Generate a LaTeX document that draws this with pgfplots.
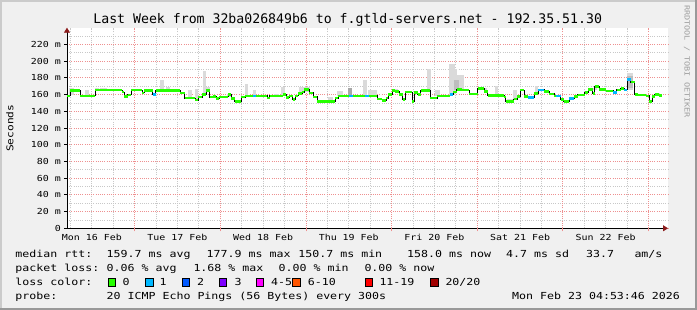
\documentclass[border=0pt]{standalone}
\usepackage{fontspec}
\usepackage{pgfplots}
\usepackage{pgfplotstable}
\pgfplotsset{compat=1.18}
\usetikzlibrary{arrows.meta}
\setmainfont{DejaVu Sans Mono}
\newfontfamily\titlefont{DejaVu Sans Mono}
\newfontfamily\tickfont[FakeStretch=1.2]{DejaVu Sans Mono}
\definecolor{bgcol}{HTML}{F0F0F0}
\definecolor{shadea}{HTML}{CBCBCB}
\definecolor{shadeb}{HTML}{999999}
\definecolor{arrowcol}{HTML}{8B1A1A}
\definecolor{mgridcol}{HTML}{EE9090}
\definecolor{gridcol}{HTML}{C8C8C8}
\definecolor{smoke}{HTML}{DADADA}
\definecolor{smokemd}{HTML}{BDBDBD}
\definecolor{smokedk}{HTML}{A8A8A8}
\definecolor{lc0}{HTML}{26FF00}
\definecolor{lc1}{HTML}{00B8FF}
\definecolor{lc2}{HTML}{0059FF}
\definecolor{lc3}{HTML}{7E00FF}
\definecolor{lc4}{HTML}{FF00FF}
\definecolor{lc6}{HTML}{FF5500}
\definecolor{lc11}{HTML}{FF0000}
\definecolor{lc20}{HTML}{A10000}
\pgfplotstableread{
x y
5.06 158.5
6.0 165
8.8 158.5
13.0 165.4
20.5 163
21.1 158
22.1 159.6
23.0 165.4
26.1 162
26.7 165
29.1 160
29.9 165
36.8 162
38.0 156
41.0 153.5
41.9 157
43.0 160
44.0 165
45.0 157
46.1 158
46.9 155
47.7 157.3
50.3 160
51.1 155.4
52.0 151.5
53.9 157
55.0 158.5
61.1 155.8
61.8 158.5
65.7 160
66.5 156.5
67.4 158.5
68.3 153.8
69.0 158.5
69.9 161
70.9 163
71.5 165.8
73.0 162
74.1 157.3
75.1 151.5
80.2 156
81.1 158.5
92.05 154.6
93.3 153
94.5 156
95.1 160
96.1 165
97.0 164
98.2 160
99.1 154
99.8 163
101.7 152
102.3 162.7
103.3 160
104.2 165
106.8 156
108.7 158.5
112.4 160
113.3 163
114.3 165.8
115.7 165.5
117.7 160.8
120.1 167.5
121.9 163.6
122.9 159
127.5 157
128.0 152
130.2 154.5
131.2 158
132.0 165.5
133.1 158
134.1 156.4
135.9 161
137.0 165.6
138.7 163.6
140.1 160.8
141.6 158.5
143.4 154.4
144.2 151.6
145.7 155.5
147.1 157.6
148.1 159.6
150.1 162.4
151.05 166.3
152.3 161.6
152.9 169.6
154.1 166.3
156.0 164.4
158.1 162.7
159.1 165.6
160.2 167.5
161.1 165.6
162.1 177.9
163.0 175
164.1 160.4
165.0 159.6
167.2 158.4
168.1 151.6
169.1 157.6
169.7 160.4
170.9 159
171.9 159
}\median
\pgfplotstableread{
x y
29.1 160
29.9 160
nan nan
57.2 158.5
58.1 158.5
nan nan
84.2 158.5
85.2 158.5
nan nan
88.5 158.5
89.7 158.5
nan nan
112.4 160
113.3 160
nan nan
134.1 156.4
135.9 156.4
nan nan
137.0 165.6
138.7 165.6
nan nan
142.0 158.5
143.4 158.5
nan nan
145.7 155.5
147.1 155.5
nan nan
158.1 162.7
159.1 162.7
nan nan
161.1 165.6
162.1 165.6
nan nan
162.1 177.9
163.0 177.9
}\lossone
\newcommand\smk[5][smoke]{\addplot[fill=#1, draw=none, forget plot] coordinates {(#2,#4) (#3,#4) (#3,#5) (#2,#5)} -- cycle;}
\newcommand\legf{\tickfont\fontsize{9.67}{12}\selectfont}
\newcommand\lbox[2]{\filldraw[fill=#2, draw=black, line width=0.8pt] (#1,24pt) rectangle ++(7.3pt,7.7pt);}
\begin{document}
\begin{tikzpicture}
\fill[bgcol] (0,0) rectangle (697pt,310pt);
\fill[shadea] (0,308pt) rectangle (697pt,310pt);
\fill[shadea] (0,0) rectangle (2pt,310pt);
\fill[shadeb] (0,0) rectangle (697pt,2pt);
\fill[shadeb] (695pt,0) rectangle (697pt,310pt);
\useasboundingbox (0,0) rectangle (697pt,310pt);
\begin{axis}[
 at={(67pt,81.7pt)}, anchor=south west, scale only axis,
 width=601pt, height=200.6pt,
 xmin=5.06, xmax=173.45, ymin=0, ymax=240,
 axis x line=bottom, axis y line=left,
 every outer x axis line/.append style={-{Triangle[length=5pt,width=6pt,color=arrowcol]}, shorten >=0pt, line width=0.8pt, draw=black},
 every outer y axis line/.append style={-{Triangle[length=5pt,width=6pt,color=arrowcol]}, shorten >=0pt, line width=0.8pt, draw=black},
 axis background/.style={fill=white},
 xtick={12,36,...,156},
 xticklabels={Mon 16 Feb,Tue 17 Feb,Wed 18 Feb,Thu 19 Feb,Fri 20 Feb,Sat 21 Feb,Sun 22 Feb},
 minor xtick={6,12,18,30,36,42,54,60,66,78,84,90,102,108,114,126,132,138,150,156,162},
 extra x ticks={24,48,72,96,120,144,168},
 extra x tick labels={},
 extra x tick style={grid=major, major tick length=3pt, xtick style={draw=mgridcol, line width=0.8pt}},
 ytick={0,20,...,220},
 yticklabels={0,20 m,40 m,60 m,80 m,100 m,120 m,140 m,160 m,180 m,200 m,220 m},
 minor ytick={10,30,...,230},
 ymajorgrids=true, xminorgrids=true, yminorgrids=true,
 major grid style={mgridcol, line width=0.8pt, dash pattern=on 1pt off 1.2pt},
 minor grid style={gridcol, line width=0.8pt, dash pattern=on 1pt off 1.2pt},
 tick align=outside, major tick length=3pt, minor tick length=0pt,
 xtick style={draw=none}, ytick style={draw=black, line width=0.8pt},
 ticklabel style={font=\tickfont\fontsize{8.3}{10}\selectfont, text=black},
 yticklabel style={anchor=east, inner sep=0pt, xshift=-3pt},
 xticklabel style={anchor=base, inner sep=0pt, yshift=-9pt},
]
\smk{5.7}{7.1}{160}{168}
\smk{10.2}{11.1}{158.5}{165.8}
\smk{13.0}{14.1}{165}{168}
\smk{14.4}{16.3}{165}{168}
\smk{31.2}{32.1}{165}{177.7}
\smk{32.9}{34.0}{165}{169.6}
\smk{39.1}{40.1}{155}{165}
\smk{41.0}{41.9}{153}{167}
\smk{43.1}{44.0}{160}{188}
\smk{44.0}{45.1}{165}{169}
\smk{50.0}{51.0}{157}{161}
\smk{55.0}{55.9}{158}{172.7}
\smk{57.2}{58.1}{158}{166}
\smk{63.0}{64.4}{158}{161}
\smk{65.1}{66.2}{158}{169}
\smk{70.2}{73.2}{163}{169}
\smk{78.3}{79.7}{151.5}{157}
\smk{80.8}{82.5}{158}{164}
\smk[smokedk]{83.9}{84.9}{158}{168}
\smk{88.1}{89.1}{158}{178}
\smk{89.5}{91.9}{158}{165}
\smk{96.5}{97.9}{164}{167}
\smk{105.9}{107.0}{163}{191}
\smk{108.2}{109.6}{158}{165}
\smk{112.1}{113.9}{160}{197}
\smk{113.9}{114.4}{163}{190}
\smk{114.4}{116.3}{165}{184}
\smk[smokemd]{113.5}{114.8}{166}{178}
\smk{120.8}{122.7}{165}{167.7}
\smk{125.0}{125.9}{158}{170.8}
\smk{128.3}{130.1}{151.5}{155}
\smk{130.1}{131.1}{154}{165}
\smk{136.2}{137.1}{160}{170.8}
\smk{152.5}{153.5}{165}{168}
\smk{161.9}{163.7}{165}{186}
\smk[smokemd]{161.9}{163.7}{168}{182}
\smk{169.8}{171.2}{158}{162}
\addplot[black, line width=0.8pt, const plot] table[x=x,y=y] {\median};
\addplot[lc0, line width=2.6pt, jump mark left] table[x=x,y=y] {\median};
\addplot[lc1, line width=2.6pt, unbounded coords=jump] table[x=x,y=y] {\lossone};
\end{axis}
\node[anchor=base, inner sep=0pt] at (347.7pt,286pt) {\titlefont\fontsize{13.2}{15}\selectfont Last Week from 32ba026849b6 to f.gtld-servers.net - 192.35.51.30};
\node[rotate=90, inner sep=0pt] at (10pt,181.7pt) {\tickfont\fontsize{9.3}{11}\selectfont Seconds};
\node[rotate=-90, inner sep=0pt, text=black!38] at (687pt,248.5pt) {\tickfont\fontsize{7.1}{8}\selectfont RRDTOOL / TOBI OETIKER};
% legend line 1
\node[anchor=base west, inner sep=0pt] at (15.3pt,52.7pt) {\legf median rtt:};
\node[anchor=base west, inner sep=0pt] at (106.5pt,52.7pt) {\legf 159.7 ms avg};
\node[anchor=base west, inner sep=0pt] at (206.5pt,52.7pt) {\legf 177.9 ms max};
\node[anchor=base west, inner sep=0pt] at (298.2pt,52.7pt) {\legf 150.7 ms min};
\node[anchor=base west, inner sep=0pt] at (407pt,52.7pt) {\legf 158.0 ms now};
\node[anchor=base west, inner sep=0pt] at (506pt,52.7pt) {\legf 4.7 ms sd};
\node[anchor=base west, inner sep=0pt] at (586pt,52.7pt) {\legf 33.7};
\node[anchor=base west, inner sep=0pt] at (634.3pt,52.7pt) {\legf am/s};
% line 2
\node[anchor=base west, inner sep=0pt] at (15.3pt,38.7pt) {\legf packet loss:};
\node[anchor=base west, inner sep=0pt] at (106.5pt,38.7pt) {\legf 0.06 \% avg};
\node[anchor=base west, inner sep=0pt] at (193.3pt,38.7pt) {\legf 1.68 \% max};
\node[anchor=base west, inner sep=0pt] at (278.5pt,38.7pt) {\legf 0.00 \% min};
\node[anchor=base west, inner sep=0pt] at (364.3pt,38.7pt) {\legf 0.00 \% now};
% line 3
\node[anchor=base west, inner sep=0pt] at (15.3pt,24.5pt) {\legf loss color:};
\lbox{108.3pt}{lc0}
\lbox{145.7pt}{lc1}
\lbox{182.3pt}{lc2}
\lbox{219pt}{lc3}
\lbox{256pt}{lc4}
\lbox{292.7pt}{lc6}
\lbox{365pt}{lc11}
\lbox{430.7pt}{lc20}
\node[anchor=base west, inner sep=0pt] at (122.5pt,24.5pt) {\legf 0};
\node[anchor=base west, inner sep=0pt] at (159.3pt,24.5pt) {\legf 1};
\node[anchor=base west, inner sep=0pt] at (197pt,24.5pt) {\legf 2};
\node[anchor=base west, inner sep=0pt] at (234.3pt,24.5pt) {\legf 3};
\node[anchor=base west, inner sep=0pt] at (271pt,24.5pt) {\legf 4-5};
\node[anchor=base west, inner sep=0pt] at (307.6pt,24.5pt) {\legf 6-10};
\node[anchor=base west, inner sep=0pt] at (379.3pt,24.5pt) {\legf 11-19};
\node[anchor=base west, inner sep=0pt] at (445.3pt,24.5pt) {\legf 20/20};
% line 4
\node[anchor=base west, inner sep=0pt] at (15.3pt,10.5pt) {\legf probe:};
\node[anchor=base west, inner sep=0pt] at (106.5pt,10.5pt) {\legf 20 ICMP Echo Pings (56 Bytes) every 300s};
\node[anchor=base west, inner sep=0pt] at (512pt,10.5pt) {\legf Mon Feb 23 04:53:46 2026};
\end{tikzpicture}
\end{document}
